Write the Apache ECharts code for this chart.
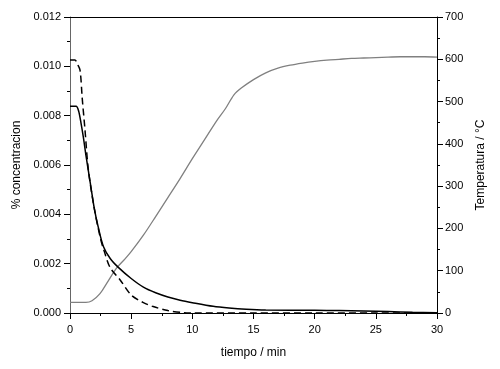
<!DOCTYPE html>
<html>
<head>
<meta charset="utf-8">
<script src="https://cdn.jsdelivr.net/npm/echarts@6/dist/echarts.min.js"></script>
<style>html,body{margin:0;padding:0;background:#fff}#c{width:500px;height:369px}</style>
</head>
<body>
<div id="c"></div>
<script>
// time (min) and values
const solidT = [0, 0.5, 0.7, 0.9, 1.1, 1.3, 1.65, 2.0, 2.3, 2.73, 3.3, 3.95, 5, 6, 7, 8, 9, 10, 11.7, 13, 14.4, 16, 20, 22, 24, 26, 28, 30];
const solidC = [0.00838, 0.00838, 0.0082, 0.0077, 0.0071, 0.0064, 0.0053, 0.0042, 0.0035, 0.0027, 0.0022, 0.00185, 0.0014, 0.00105, 0.00082, 0.00065, 0.00052, 0.00042, 0.00027, 0.0002, 0.00015, 0.00012, 0.00011, 0.0001, 0.00008, 0.00006, 0.00003, 0.00001];

const dashT = [0, 0.4, 0.6, 0.82, 1.0, 1.23, 1.5, 2.0, 2.5, 2.8, 3.27, 4.1, 5.0, 6.0, 6.8, 8, 9.3, 10, 15, 20, 25, 30];
const dashC = [0.01026, 0.01026, 0.0101, 0.00985, 0.0087, 0.0074, 0.0058, 0.0042, 0.003, 0.0025, 0.00185, 0.00134, 0.00073, 0.00042, 0.00026, 0.0001, 0.00001, 0, 0, 0, 0, 0];

const tempT = [0, 1.3, 1.8, 2.45, 3.0, 3.8, 4.5, 5, 6, 7, 8, 9, 10, 11, 12, 12.7, 13.4, 14, 15, 16, 17, 18, 19, 20, 21, 22, 23, 24, 25, 26, 27, 28, 29, 30];
const tempV = [25, 25, 29, 46, 70, 106, 128, 145, 184, 228, 273, 318, 365, 410, 455, 483, 516, 532, 552, 568, 579, 586, 591, 595, 598, 600, 602, 603, 604, 605, 606, 606, 606, 605];

const xTicks = [0, 5, 10, 15, 20, 25, 30];

const pairs = (a, b) => a.map((v, i) => [v, b[i]]);
const font = 'Liberation Sans, Arial, sans-serif';

const chart = echarts.init(document.getElementById('c'), null, {renderer: 'canvas'});
chart.setOption({
  animation: false,
  backgroundColor: '#fff',
  grid: {left: 70, right: 63, top: 17, bottom: 56},
  xAxis: [{
    type: 'value', min: xTicks[0], max: xTicks[xTicks.length - 1], interval: 5, position: 'bottom',
    name: 'tiempo / min', nameLocation: 'middle', nameGap: 34,
    nameTextStyle: {fontFamily: font, fontSize: 12, color: '#000'},
    axisLine: {onZero: false, lineStyle: {color: '#000', width: 1}},
    axisTick: {show: true, inside: false, length: 6, lineStyle: {color: '#000'}},
    minorTick: {show: true, splitNumber: 2, length: 3, lineStyle: {color: '#000'}},
    axisLabel: {fontFamily: font, fontSize: 11, color: '#000', margin: 11},
    splitLine: {show: false}
  }, {
    type: 'value', position: 'top', min: xTicks[0], max: xTicks[xTicks.length - 1], interval: 5,
    axisLine: {show: true, onZero: false, lineStyle: {color: '#000', width: 1}},
    axisTick: {show: false}, axisLabel: {show: false}, splitLine: {show: false}
  }],
  yAxis: [{
    type: 'value', min: 0, max: 0.012, interval: 0.002, position: 'left',
    name: '% concentracion', nameLocation: 'middle', nameGap: 41, nameRotate: 90,
    nameTextStyle: {fontFamily: font, fontSize: 12, color: '#000'},
    axisLine: {show: true, onZero: false, lineStyle: {color: '#666', width: 1}},
    axisTick: {show: true, length: 6, lineStyle: {color: '#000'}},
    minorTick: {show: true, splitNumber: 2, length: 3, lineStyle: {color: '#000'}},
    axisLabel: {fontFamily: font, fontSize: 11, color: '#000', margin: 9, formatter: v => v.toFixed(3)},
    splitLine: {show: false}
  }, {
    type: 'value', min: 0, max: 700, interval: 100, position: 'right',
    name: 'Temperatura / °C', nameLocation: 'middle', nameGap: 38, nameRotate: 90,
    nameTextStyle: {fontFamily: font, fontSize: 12, color: '#000'},
    axisLine: {show: true, onZero: false, lineStyle: {color: '#000', width: 1}},
    axisTick: {show: true, length: 6, lineStyle: {color: '#000'}},
    minorTick: {show: true, splitNumber: 2, length: 3, lineStyle: {color: '#000'}},
    axisLabel: {fontFamily: font, fontSize: 11, color: '#000', margin: 8},
    splitLine: {show: false}
  }],
  series: [{
    type: 'line', yAxisIndex: 1, data: pairs(tempT, tempV), smooth: 0.3, showSymbol: false,
    lineStyle: {color: '#808080', width: 1.3}, z: 2
  }, {
    type: 'line', yAxisIndex: 0, data: pairs(dashT, dashC), smooth: 0.3, showSymbol: false,
    lineStyle: {color: '#000', width: 1.5, type: [7, 4]}, z: 3
  }, {
    type: 'line', yAxisIndex: 0, data: pairs(solidT, solidC), smooth: 0.3, showSymbol: false,
    lineStyle: {color: '#000', width: 1.5}, z: 4
  }]
});
</script>
</body>
</html>
